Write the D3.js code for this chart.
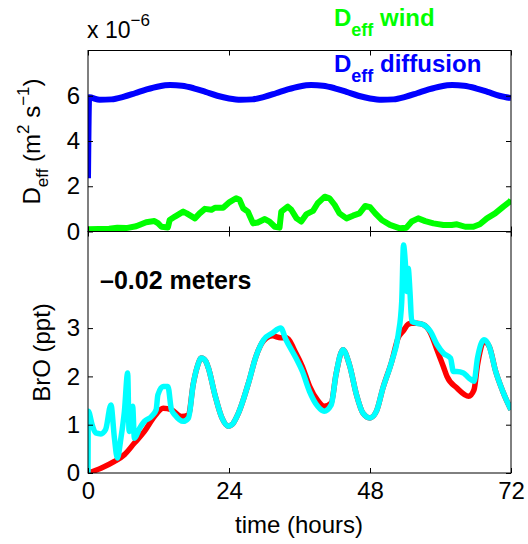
<!DOCTYPE html>
<html><head><meta charset="utf-8">
<script src="https://cdn.jsdelivr.net/npm/d3@7"></script>
<style>body{margin:0;background:#fff} text{font-family:"Liberation Sans",Arial,sans-serif;fill:#000}</style>
</head><body><svg id="c" width="528" height="544"></svg>
<script>
// ---------- data ----------
const xTicks = [0, 24, 48, 72];
const topYTicks = [0, 2, 4, 6];
const botYTicks = [0, 1, 2, 3];

const diffusionTime  = [0, 0.2, 2, 4, 6, 8, 10, 12, 14, 16, 18, 20, 22, 24, 26, 28, 30, 32, 34, 36, 38, 40, 42, 44, 46, 48, 50, 52, 54, 56, 58, 60, 62, 64, 66, 68, 70, 72];
const diffusionValue = [2.35, 5.93, 5.82, 5.84, 5.95, 6.11, 6.28, 6.41, 6.47, 6.44, 6.33, 6.17, 6.0, 5.88, 5.82, 5.84, 5.95, 6.11, 6.28, 6.41, 6.47, 6.44, 6.33, 6.17, 6.0, 5.88, 5.82, 5.84, 5.95, 6.11, 6.28, 6.41, 6.47, 6.44, 6.33, 6.17, 6.0, 5.9];

const windTime  = [0, 3.6, 5.0, 6.5, 8.2, 9.9, 11.3, 11.9, 12.5, 13.6, 13.9, 14.8, 16.2, 16.8, 18.2, 19.0, 19.9, 21.0, 21.6, 23.0, 24.1, 25.2, 25.8, 26.4, 27.2, 28.1, 28.9, 30.1, 30.9, 31.8, 32.6, 32.9, 34.0, 34.6, 35.5, 36.3, 37.2, 38.3, 39.1, 40.3, 41.1, 42.0, 42.8, 44.0, 45.1, 46.2, 47.2, 48.0, 48.9, 50.0, 51.4, 53.1, 54.2, 55.1, 56.2, 57.4, 58.8, 60.5, 61.9, 62.8, 64.2, 65.6, 66.7, 67.9, 69.3, 70.7, 71.8, 72];
const windValue = [0.1, 0.12, 0.17, 0.15, 0.23, 0.41, 0.46, 0.37, 0.21, 0.18, 0.51, 0.66, 0.88, 0.8, 0.58, 0.8, 1.0, 0.96, 1.05, 1.05, 1.3, 1.47, 1.4, 1.03, 0.88, 0.36, 0.4, 0.55, 0.44, 0.21, 0.17, 0.88, 1.1, 0.96, 0.58, 0.44, 0.77, 0.91, 1.25, 1.54, 1.47, 1.17, 0.8, 0.58, 0.7, 0.8, 1.13, 1.08, 0.8, 0.51, 0.29, 0.14, 0.17, 0.44, 0.58, 0.46, 0.36, 0.29, 0.29, 0.32, 0.21, 0.21, 0.32, 0.58, 0.8, 1.1, 1.32, 1.4];

const redTime  = [0, 2.2, 4.5, 6.2, 7.9, 9.6, 11.3, 12.8, 14.2, 15.9, 17.1, 17.9, 18.6, 19.3, 20.0, 20.5, 21.6, 22.8, 23.9, 24.5, 25.6, 27.4, 28.5, 29.9, 31.4, 32.8, 33.7, 35.4, 36.5, 37.7, 39.1, 40.2, 41.4, 42.2, 43.4, 44.5, 45.7, 46.8, 48.0, 49.1, 50.2, 51.7, 52.8, 53.7, 54.5, 55.1, 56.0, 57.1, 58.3, 59.4, 60.5, 61.1, 62.8, 64.8, 65.7, 66.3, 67.4, 68.3, 69.4, 70.6, 72];
const redValue = [0, 0.1, 0.24, 0.38, 0.62, 0.86, 1.17, 1.34, 1.31, 1.17, 1.2, 1.83, 2.2, 2.38, 2.32, 2.17, 1.62, 1.14, 0.97, 1.0, 1.24, 1.9, 2.38, 2.74, 2.84, 2.8, 2.8, 2.48, 2.2, 1.8, 1.5, 1.38, 1.45, 2.03, 2.55, 2.24, 1.62, 1.24, 1.14, 1.28, 1.76, 2.31, 2.8, 2.95, 3.08, 3.1, 3.1, 3.07, 2.9, 2.55, 2.2, 2.0, 1.76, 1.59, 1.72, 2.24, 2.72, 2.62, 2.1, 1.69, 1.31];

const cyanTime  = [0, 0.05, 0.7, 1.3, 2.2, 3.0, 3.9, 4.5, 5.0, 5.6, 6.2, 6.75, 7.0, 7.6, 7.9, 8.8, 9.6, 10.8, 11.6, 11.9, 12.8, 13.6, 14.2, 14.8, 16.2, 17.1, 17.9, 18.6, 19.3, 20.0, 20.5, 21.6, 22.8, 23.9, 24.5, 25.6, 27.4, 28.5, 29.9, 31.4, 32.8, 33.7, 35.4, 36.5, 37.7, 39.1, 40.2, 41.4, 42.2, 43.4, 44.5, 45.7, 46.8, 48.0, 49.1, 50.2, 51.7, 52.8, 53.4, 53.7, 54.0, 54.3, 54.5, 54.8, 55.1, 56.0, 57.1, 58.3, 59.4, 60.5, 61.7, 62.2, 62.8, 63.9, 64.8, 65.7, 66.3, 67.4, 68.3, 69.4, 70.6, 72];
const cyanValue = [0, 1.28, 1.0, 0.83, 0.81, 0.9, 1.41, 0.72, 0.31, 0.72, 1.28, 2.07, 0.86, 1.38, 0.72, 0.93, 1.07, 1.17, 1.31, 1.62, 1.79, 1.79, 1.31, 1.2, 1.07, 1.14, 1.83, 2.2, 2.38, 2.32, 2.17, 1.62, 1.14, 0.97, 1.0, 1.24, 1.9, 2.38, 2.76, 2.9, 3.0, 2.76, 2.38, 2.1, 1.69, 1.38, 1.28, 1.41, 2.03, 2.55, 2.24, 1.62, 1.24, 1.14, 1.28, 1.76, 2.31, 2.86, 3.55, 4.72, 4.38, 3.76, 4.24, 3.76, 3.14, 3.1, 3.07, 2.93, 2.66, 2.48, 2.38, 2.1, 2.1, 2.07, 1.97, 1.9, 2.38, 2.76, 2.62, 2.1, 1.69, 1.31];

// ---------- layout ----------
const svg = d3.select('#c');
const L = 88, R = 511, T = 50.5, M = 231.5, B = 473;
const FONT = '"Liberation Sans", Arial, sans-serif';
const x = d3.scaleLinear().domain([0, 72]).range([L, R]);
const yTop = d3.scaleLinear().domain([0, 8]).range([M, T]);
const yBot = d3.scaleLinear().domain([0, 5]).range([B, M]);

const defs = svg.append('defs');
defs.append('clipPath').attr('id', 'clipTop').append('rect').attr('x', L).attr('y', T).attr('width', R - L).attr('height', M - T);
defs.append('clipPath').attr('id', 'clipBot').append('rect').attr('x', L).attr('y', M).attr('width', R - L).attr('height', B - M);

function drawSeries(g, times, vals, y, color, w, curve) {
  const line = d3.line().x(d => x(d[0])).y(d => y(d[1])).curve(curve);
  g.append('path').datum(times.map((t, i) => [t, vals[i]]))
    .attr('d', line).attr('fill', 'none').attr('stroke', color)
    .attr('stroke-width', w).attr('stroke-linejoin', 'round').attr('stroke-linecap', 'butt');
}

const gTop = svg.append('g').attr('clip-path', 'url(#clipTop)');
drawSeries(gTop, windTime, windValue, yTop, '#00ff00', 6, d3.curveLinear);
drawSeries(gTop, diffusionTime, diffusionValue, yTop, '#0000ff', 6, d3.curveMonotoneX);

const gBot = svg.append('g').attr('clip-path', 'url(#clipBot)');
drawSeries(gBot, redTime, redValue, yBot, '#ff0000', 5.5, d3.curveMonotoneX);
drawSeries(gBot, cyanTime, cyanValue, yBot, '#00ffff', 5.5, d3.curveMonotoneX);

// ---------- axes ----------
function styleAxis(g, size) {
  g.select('.domain').remove();
  g.selectAll('.tick line').attr('stroke', '#000').attr('stroke-width', 1);
  g.selectAll('.tick text').attr('font-size', size).attr('font-family', FONT).attr('fill', '#000');
}
// top panel
styleAxis(svg.append('g').attr('transform', `translate(0,${M})`).call(d3.axisBottom(x).tickValues(xTicks).tickSize(-5).tickFormat('')), 24);
styleAxis(svg.append('g').attr('transform', `translate(0,${T})`).call(d3.axisTop(x).tickValues(xTicks).tickSize(-5).tickFormat('')), 24);
styleAxis(svg.append('g').attr('transform', `translate(${L},0)`).call(d3.axisLeft(yTop).tickValues(topYTicks).tickSize(-5).tickPadding(8).tickFormat(d3.format('d'))), 24);
styleAxis(svg.append('g').attr('transform', `translate(${R},0)`).call(d3.axisRight(yTop).tickValues(topYTicks).tickSize(-5).tickFormat('')), 24);
// bottom panel
styleAxis(svg.append('g').attr('transform', `translate(0,${B})`).call(d3.axisBottom(x).tickValues(xTicks).tickSize(-5).tickPadding(9).tickFormat(d3.format('d'))), 24);
styleAxis(svg.append('g').attr('transform', `translate(0,${M})`).call(d3.axisTop(x).tickValues(xTicks).tickSize(-5).tickFormat('')), 24);
styleAxis(svg.append('g').attr('transform', `translate(${L},0)`).call(d3.axisLeft(yBot).tickValues(botYTicks).tickSize(-5).tickPadding(8).tickFormat(d3.format('d'))), 24);
styleAxis(svg.append('g').attr('transform', `translate(${R},0)`).call(d3.axisRight(yBot).tickValues(botYTicks).tickSize(-5).tickFormat('')), 24);

// boxes
svg.append('rect').attr('x', L).attr('y', T).attr('width', R - L).attr('height', M - T).attr('fill', 'none').attr('stroke', '#000').attr('stroke-width', 1);
svg.append('rect').attr('x', L).attr('y', M).attr('width', R - L).attr('height', B - M).attr('fill', 'none').attr('stroke', '#000').attr('stroke-width', 1);

// ---------- texts ----------
// exponent label
const ex = svg.append('text').attr('x', 87).attr('y', 38).attr('font-size', 23);
ex.append('tspan').text('x 10');
ex.append('tspan').attr('dy', -12).attr('font-size', 17).text('\u22126');

// legend
function legend(yb, label, color) {
  const t = svg.append('text').attr('x', 334).attr('y', yb).attr('font-size', 24).attr('font-weight', 'bold').attr('fill', color).style('fill', color);
  t.append('tspan').text('D');
  t.append('tspan').attr('dy', 10).attr('font-size', 18).text('eff');
  t.append('tspan').attr('dy', -10).text(' ' + label);
}
legend(26, 'wind', '#00ff00');
legend(72, 'diffusion', '#0000ff');

// annotation
svg.append('text').attr('x', 100).attr('y', 289).attr('font-size', 25).attr('font-weight', 'bold').text('\u20130.02 meters');

// y label top
const yl = svg.append('text').attr('transform', 'translate(39.5,141.5) rotate(-90)').attr('text-anchor', 'middle').attr('font-size', 24);
yl.append('tspan').text('D');
yl.append('tspan').attr('dy', 8).attr('font-size', 17).text('eff');
yl.append('tspan').attr('dy', -8).text(' (m');
yl.append('tspan').attr('dy', -11).attr('font-size', 17).text('2');
yl.append('tspan').attr('dy', 11).text(' s');
yl.append('tspan').attr('dy', -11).attr('font-size', 17).text('\u22121');
yl.append('tspan').attr('dy', 11).text(')');

// y label bottom
svg.append('text').attr('transform', 'translate(50,352.5) rotate(-90)').attr('text-anchor', 'middle').attr('font-size', 24).text('BrO (ppt)');

// x label
svg.append('text').attr('x', 299).attr('y', 533).attr('text-anchor', 'middle').attr('font-size', 24).text('time (hours)');
</script></body></html>
